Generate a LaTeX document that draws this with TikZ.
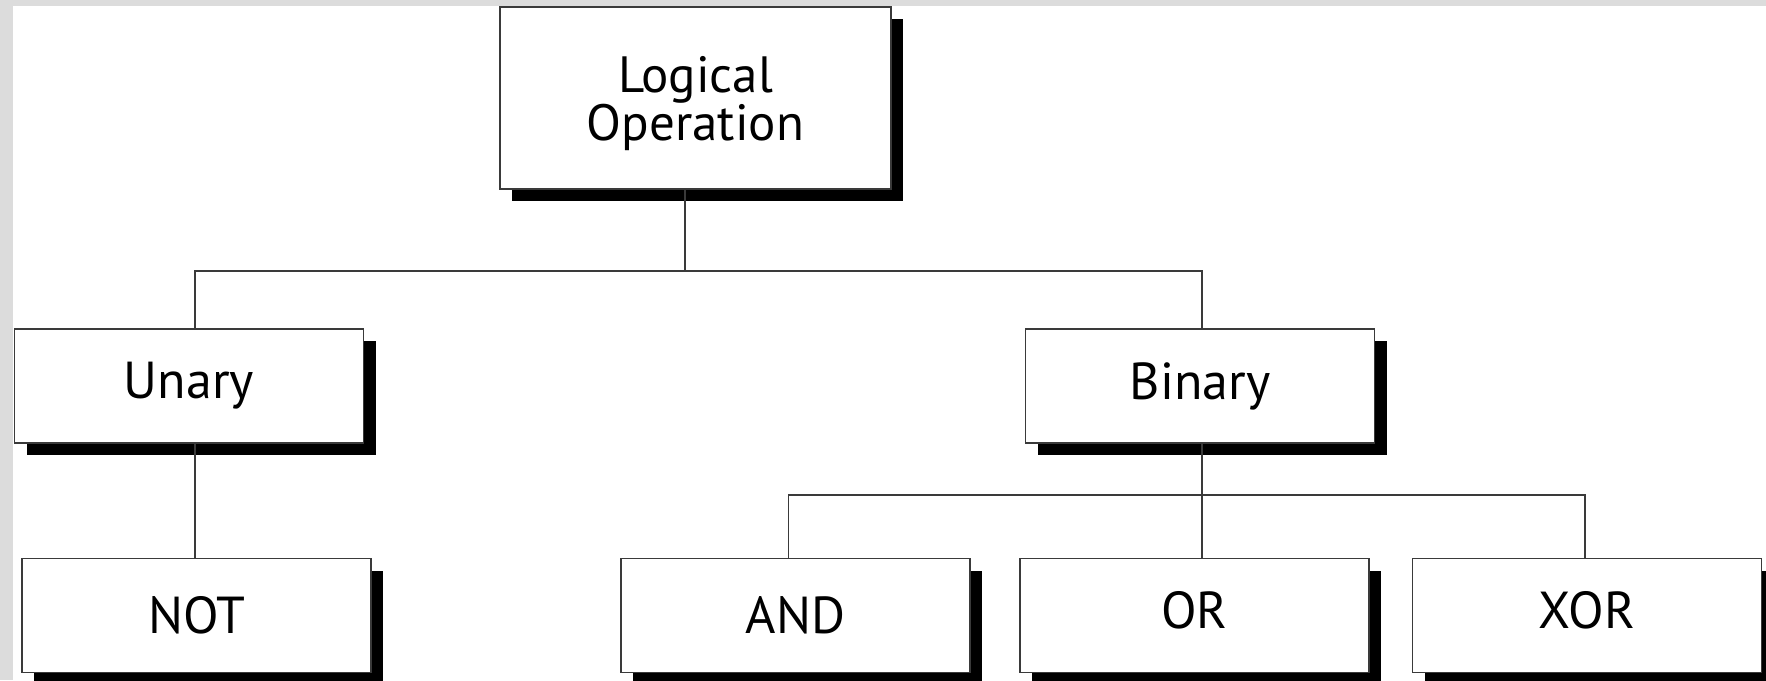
\documentclass[tikz,border=0pt]{standalone}
\usepackage{fontspec}
\setmainfont{PT Sans}
\usetikzlibrary{shadows}
\definecolor{framegray}{HTML}{DCDCDC}
\definecolor{linegray}{HTML}{3A3A3A}

\tikzset{
  opbox/.style={draw=linegray, line width=0.7pt, fill=white, inner sep=0pt,
    minimum width=174.5pt, minimum height=57pt,
    font=\fontsize{26}{28}\selectfont,
    drop shadow={opacity=1, fill=black, shadow xshift=6pt, shadow yshift=-6pt}},
  raised/.style={text depth=6pt},
  link/.style={draw=linegray, line width=0.7pt}
}

\begin{document}
\begin{tikzpicture}[x=0.5pt, y=-0.5pt]
  \useasboundingbox (0,0) rectangle (1766,680);
  \fill[framegray] (0,0) rectangle (1766,680);
  \fill[white] (13,6) rectangle (1766,680);

  \node[opbox, minimum width=195.5pt, minimum height=91pt, align=center,
    font=\fontsize{25.5}{24}\selectfont, text depth=-2pt] (logic) at (695.5,98) {Logical\\Operation};
  \node[opbox] (unary) at (189,386) {Unary};
  \node[opbox] (binary) at (1200,386) {Binary};
  \node[opbox] (not) at (196.5,615.5) {NOT};
  \node[opbox] (and) at (795.5,615.5) {AND};
  \node[opbox, raised] (or) at (1194.5,615.5) {OR};
  \node[opbox, raised] (xor) at (1587,615.5) {XOR};

  % tree links
  \coordinate (split) at (685,271);
  \coordinate (fork) at (1202,495);
  \draw[link] (split |- logic.south) -- (split);
  \draw[link] ([xshift=3pt]unary.north) |- (split) -| ([xshift=1pt]binary.north);
  \draw[link] ([xshift=3pt]unary.south) -- ([xshift=3pt]unary.south |- not.north);
  \draw[link] (fork |- binary.south) -- (fork |- or.north);
  \draw[link] ([xshift=-3.5pt]and.north) |- (fork) -| ([xshift=-1pt]xor.north);
\end{tikzpicture}
\end{document}
